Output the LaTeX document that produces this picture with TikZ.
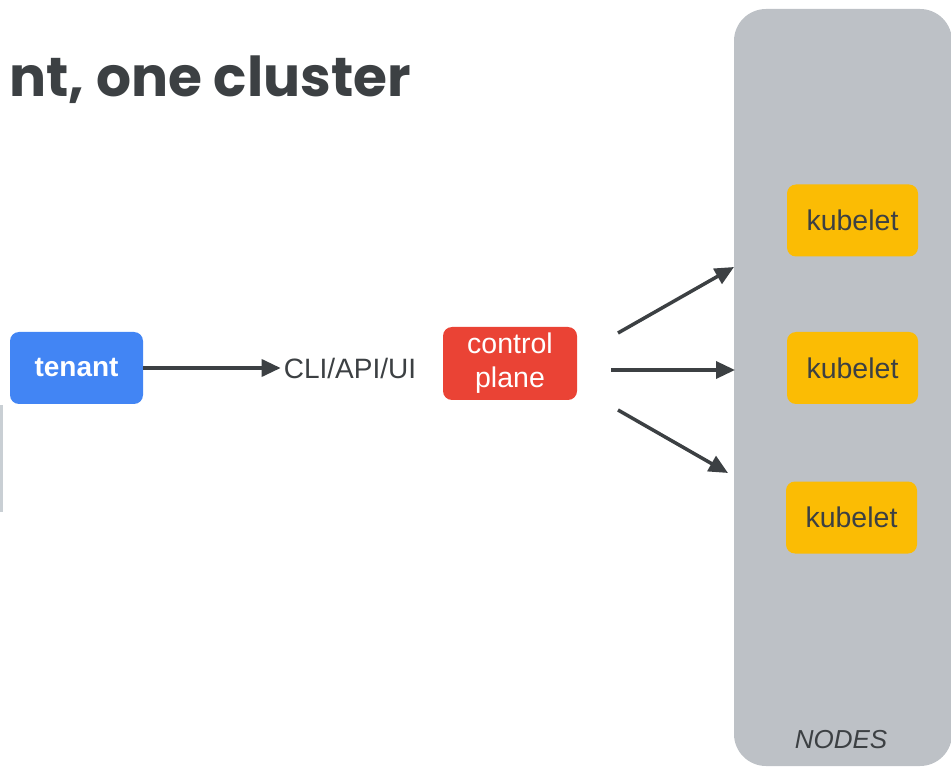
\documentclass[tikz,border=0pt]{standalone}
\usepackage{fontspec}
\setmainfont{Liberation Sans}
\newfontfamily\titlefont{Poppins}
\usetikzlibrary{arrows.meta,positioning}

\definecolor{inkgray}{HTML}{3C4043}
\definecolor{panelgray}{HTML}{BDC1C6}
\definecolor{gblue}{HTML}{4285F4}
\definecolor{gred}{HTML}{EA4335}
\definecolor{gyellow}{HTML}{FBBC04}
\definecolor{sliver}{HTML}{C9CFD4}

\tikzset{
  box/.style={rounded corners=9pt, minimum width=133pt, minimum height=72pt,
    inner sep=0pt, align=center},
  tenantbox/.style={box, fill=gblue, text=white, font=\fontsize{28}{30}\selectfont\bfseries},
  cpbox/.style={box, fill=gred, text=white, minimum width=134pt, minimum height=73pt,
    font=\fontsize{28.5}{34}\selectfont},
  kubebox/.style={box, fill=gyellow, text=inkgray, minimum width=131pt,
    font=\fontsize{28.5}{32}\selectfont},
  flow/.style={draw=inkgray, line width=3.5pt,
    -{Triangle[length=19pt, width=17pt]}},
}

\begin{document}
\begin{tikzpicture}[x=1pt, y=-1pt]
  \useasboundingbox (0,0) rectangle (951,767);
  \clip (0,0) rectangle (951,767);

  % partly visible picture at the left edge
  \fill[sliver] (0,405) rectangle (2.5,512);

  % title
  \node[anchor=base east, inner sep=0pt, text=inkgray,
        font=\titlefont\bfseries\fontsize{55}{62}\selectfont] (title) at (411,97) {nt, one cluster};

  % node pool
  \fill[panelgray, rounded corners=32pt] (734,9) rectangle (952,766);
  \node[text=inkgray, font=\fontsize{26}{30}\selectfont\itshape] (nodes) at (841,740) {NODES};

  % boxes
  \node[tenantbox] (tenant) at (76.5,368) {tenant};
  \node[text=inkgray, inner sep=3pt, font=\fontsize{28}{32}\selectfont] (cli) at (350,368) {CLI/API/UI};
  \node[cpbox] (cp) at (510,363.5) {control\\plane};

  \node[kubebox] (k1) at (852.5,220.5) {kubelet};
  \node[kubebox] (k2) at (852.5,368) {kubelet};
  \node[kubebox] (k3) at (851.5,517.5) {kubelet};

  % arrow ends
  \coordinate (s1) at (618,333);
  \coordinate (e1) at (734,267);
  \coordinate (s2) at (611,370);
  \coordinate (e2) at (735,370);
  \coordinate (s3) at (618,410);
  \coordinate (e3) at (728,473);

  % connectors
  \draw[flow] (tenant.east) -- (cli.west);
  \draw[flow] (s1) -- (e1);
  \draw[flow] (s2) -- (e2);
  \draw[flow] (s3) -- (e3);
\end{tikzpicture}
\end{document}
